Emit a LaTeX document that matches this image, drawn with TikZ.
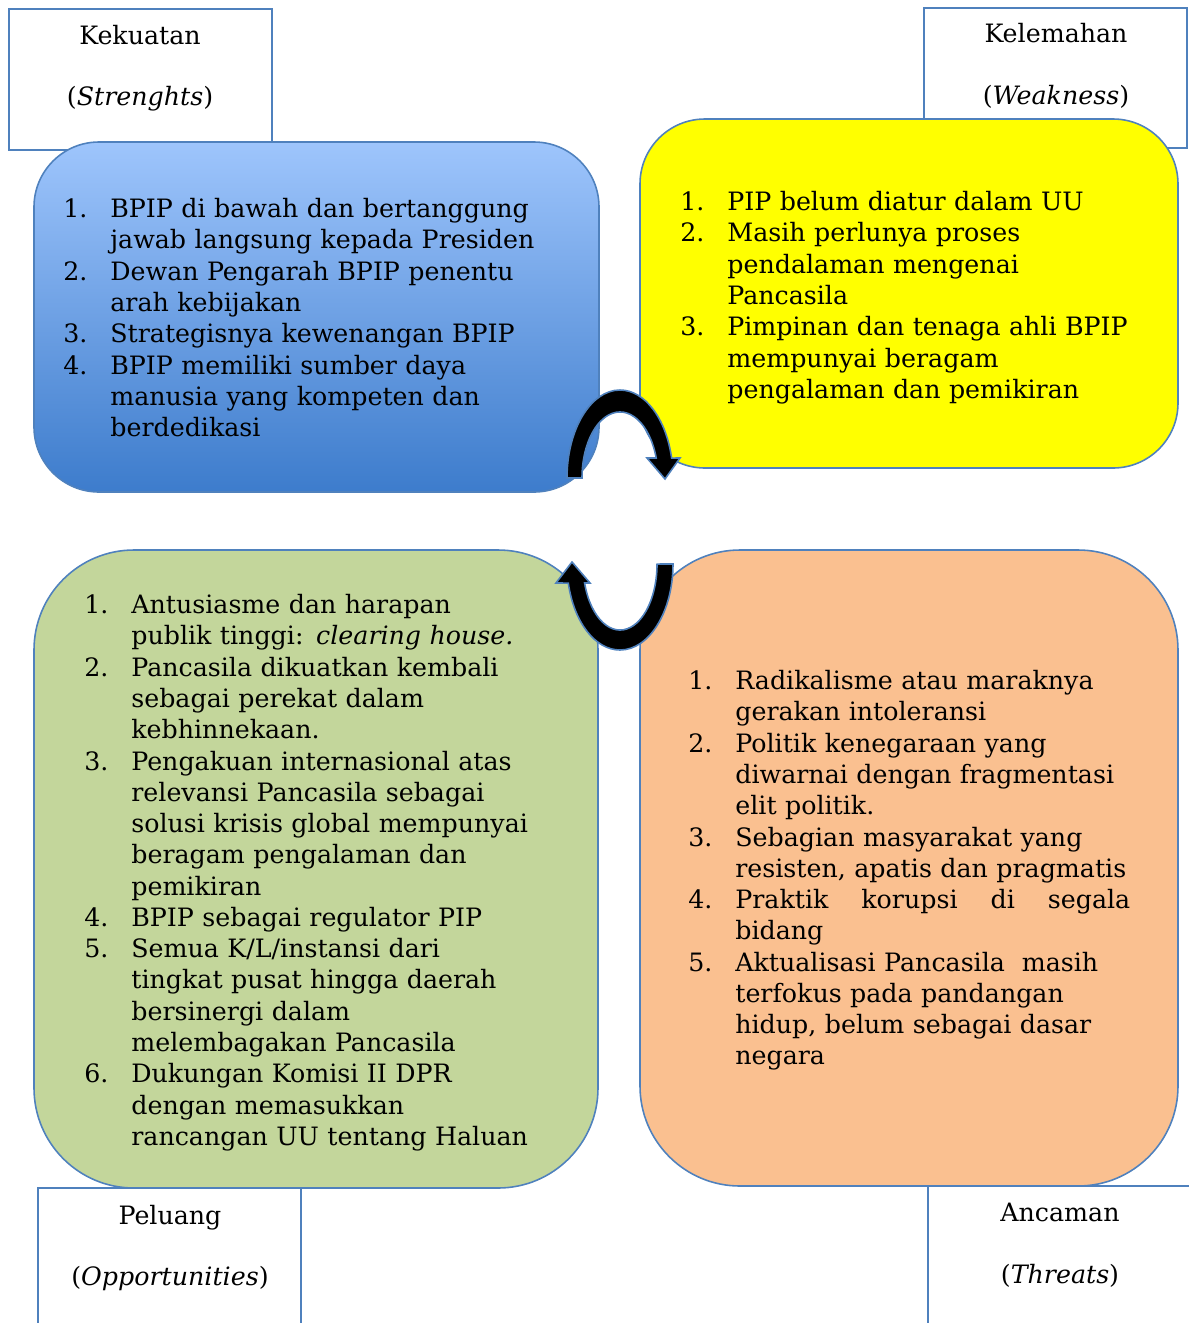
\documentclass[tikz,border=0pt]{standalone}
\usepackage{fontspec}
\setmainfont{DejaVu Serif}
\usepackage{enumitem}
\setlist[enumerate]{leftmargin=0.94cm, labelwidth=0.94cm, labelsep=0pt, align=left, itemsep=0pt, topsep=0pt, parsep=0pt, partopsep=0pt}

\definecolor{garis}{RGB}{79,129,189}
\definecolor{biruatas}{RGB}{158,197,252}
\definecolor{birubawah}{RGB}{61,124,204}
\definecolor{kuning}{RGB}{255,255,0}
\definecolor{hijau}{RGB}{195,214,155}
\definecolor{jingga}{RGB}{250,192,144}

\begin{document}
\begin{tikzpicture}[x=0.02cm, y=-0.02cm,
    kotakjudul/.style={draw=garis, line width=1.2pt, fill=white},
    kotakswot/.style={draw=garis, line width=0.9pt},
    judul/.style={align=center, font=\fontsize{14.4}{35}\selectfont},
    daftar/.style={anchor=north west, inner sep=0pt, align=left, font=\fontsize{14.4}{17.8}\selectfont},
    panah/.style={fill=black, draw=garis, line width=0.9pt}]
    \clip (0,0) rectangle (1189,1323);

    % kotak judul di pojok
    \draw[kotakjudul] (9,9) rectangle (272,150);
    \draw[kotakjudul] (924,8) rectangle (1187,148);
    \draw[kotakjudul] (38,1188) rectangle (301,1340);
    \draw[kotakjudul] (928,1186) rectangle (1200,1340);
    \node[judul] (kuat) at (140,68) {Kekuatan\\(\textit{Strenghts})};
    \node[judul] (lemah) at (1056,66) {Kelemahan\\(\textit{Weakness})};
    \node[judul] (peluang) at (170,1248) {Peluang\\(\textit{Opportunities})};
    \node[judul] (ancaman) at (1060,1245) {Ancaman\\(\textit{Threats})};

    % empat kotak SWOT
    \draw[kotakswot, top color=biruatas, bottom color=birubawah, rounded corners=1.3cm] (34,142) rectangle (599,492);
    \draw[kotakswot, fill=kuning, rounded corners=1.3cm] (640,119) rectangle (1178,468);
    \draw[kotakswot, fill=hijau, rounded corners=2cm] (34,550) rectangle (598,1188);
    \draw[kotakswot, fill=jingga, rounded corners=2cm] (640,550) rectangle (1178,1186);

    \node[daftar, text width=10.6cm] (S) at (63,186) {%
    \begin{enumerate}
    \item BPIP di bawah dan bertanggung\\jawab langsung kepada Presiden
    \item Dewan Pengarah BPIP penentu\\arah kebijakan
    \item Strategisnya kewenangan BPIP
    \item BPIP memiliki sumber daya\\manusia yang kompeten dan\\berdedikasi
    \end{enumerate}};

    \node[daftar, text width=10cm] (W) at (680,179) {%
    \begin{enumerate}
    \item PIP belum diatur dalam UU
    \item Masih perlunya proses\\pendalaman mengenai\\Pancasila
    \item Pimpinan dan tenaga ahli BPIP\\mempunyai beragam\\pengalaman dan pemikiran
    \end{enumerate}};

    \node[daftar, text width=10.6cm] (O) at (84,582) {%
    \begin{enumerate}
    \item Antusiasme dan harapan\\publik tinggi: \textit{clearing house.}
    \item Pancasila dikuatkan kembali\\sebagai perekat dalam\\kebhinnekaan.
    \item Pengakuan internasional atas\\relevansi Pancasila sebagai\\solusi krisis global mempunyai\\beragam pengalaman dan\\pemikiran
    \item BPIP sebagai regulator PIP
    \item Semua K/L/instansi dari\\tingkat pusat hingga daerah\\bersinergi dalam\\melembagakan Pancasila
    \item Dukungan Komisi II DPR\\dengan memasukkan\\rancangan UU tentang Haluan
    \end{enumerate}};

    \node[daftar, text width=10cm] (T) at (688,658) {%
    \begin{enumerate}
    \item Radikalisme atau maraknya\\gerakan intoleransi
    \item Politik kenegaraan yang\\diwarnai dengan fragmentasi\\elit politik.
    \item Sebagian masyarakat yang\\resisten, apatis dan pragmatis
    \item \makebox[7.9cm][l]{Praktik\hfill korupsi\hfill di\hfill segala}\\bidang
    \item Aktualisasi Pancasila\ \ masih\\terfokus pada pandangan\\hidup, belum sebagai dasar\\negara
    \end{enumerate}};

    % panah melengkung
    \draw[panah] (567,478) arc[start angle=180, end angle=346.9, x radius=53, y radius=88]
        -- (680,458) -- (665,479) -- (647,458) -- (656.2,458)
        arc[start angle=342.4, end angle=180, x radius=38, y radius=66] -- cycle;
    \draw[panah] (673,564) arc[start angle=0, end angle=167.2, x radius=53, y radius=86]
        -- (556,583) -- (572,562) -- (590,583) -- (584.6,583)
        arc[start angle=163.3, end angle=0, x radius=37, y radius=66] -- cycle;
\end{tikzpicture}
\end{document}
